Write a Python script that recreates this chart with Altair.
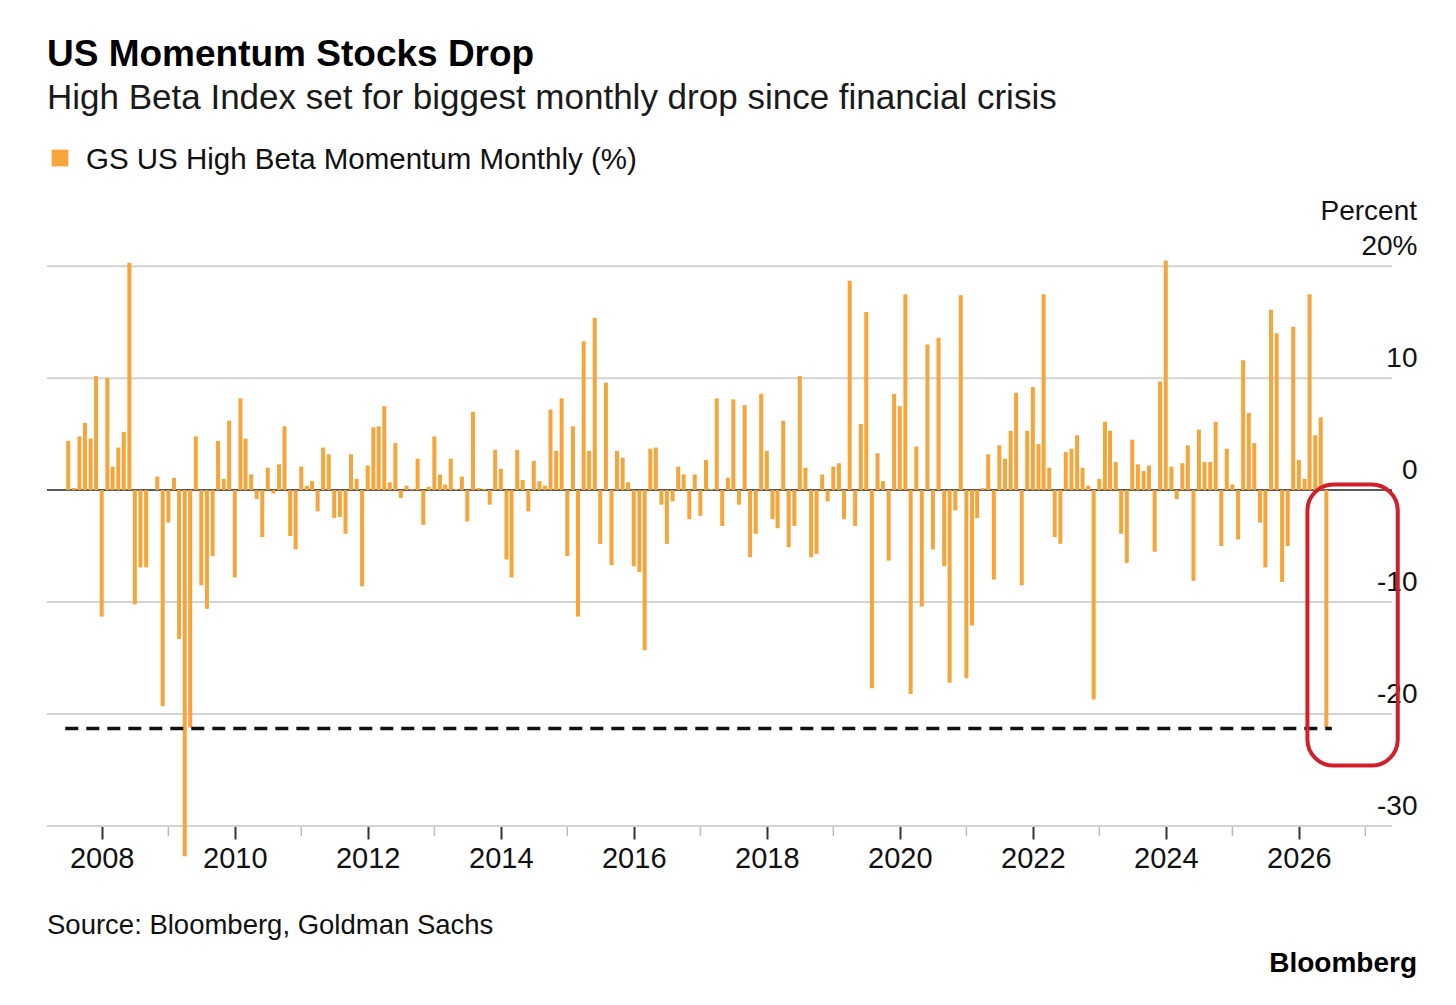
import altair as alt
import pandas as pd

values = [
 4.4,0.2,4.8,6.0,4.6,10.2,-11.3,10.0,2.1,3.8,5.2,20.3,-10.2,-6.9,-6.9,0.0,1.2,-19.3,-2.9,1.1,-13.3,-32.7,-21.2,4.8,-8.5,-10.6,-5.9,4.4,1.0,6.2,-7.8,8.2,4.6,1.4,-0.8,-4.2,2.0,
 -0.3,2.3,5.7,-4.1,-5.3,2.1,0.4,0.8,-1.9,3.8,3.2,-2.5,-2.4,-3.9,3.2,1.0,-8.6,2.2,5.6,5.7,7.5,0.7,4.2,-0.7,0.4,0.1,2.8,-3.1,0.3,4.8,1.4,0.5,2.8,0.1,1.2,-2.8,7.0,0.2,0.1,-1.3,
 3.6,1.9,-6.2,-7.8,3.6,0.9,-1.9,2.6,0.8,0.4,7.2,3.5,8.2,-5.9,5.7,-11.3,13.3,3.5,15.4,-4.8,9.6,-6.7,3.5,2.9,0.7,-6.8,-7.3,-14.3,3.7,3.8,-1.3,-4.8,-1.0,2.1,1.4,-2.6,1.4,-2.3,2.7,
 0.1,8.2,-3.2,1.1,8.1,-1.3,7.6,-6.0,-3.9,8.6,3.5,-2.6,-3.4,6.2,-5.1,-3.2,10.2,2.0,-6.0,-5.7,1.4,-1.0,2.1,2.4,-2.6,18.7,-3.2,5.9,15.9,-17.7,3.3,0.8,-6.3,8.6,7.5,17.5,-18.2,3.9,-10.4,13.0,
 -5.3,13.6,-6.8,-17.2,-1.8,17.4,-16.8,-12.1,-2.5,0.2,3.2,-8.0,4.0,2.8,5.3,8.7,-8.5,5.3,9.2,4.1,17.5,2.0,-4.2,-4.8,3.4,3.7,4.9,2.0,0.4,-18.7,1.0,6.1,5.3,2.5,-3.9,-6.5,4.5,2.3,1.7,2.2,
 -5.5,9.7,20.5,2.1,-0.8,2.4,4.0,-8.1,5.4,2.5,2.5,6.1,-5.0,3.7,0.5,-4.4,11.6,6.9,4.2,-2.9,-6.9,16.1,14.0,-8.2,-5.0,14.6,2.7,1.0,17.5,4.9,6.5,-21.3,
]
start_month = "2007-07-01"
dates = pd.date_range(start_month, periods=len(values), freq="MS")
df = pd.DataFrame({"date": dates, "value": values})

even_years = [f"{y}-01-01" for y in range(2008, 2027, 2)]
odd_years = [f"{y}-01-01" for y in range(2009, 2028, 2)]
y_ticks = [-30, -20, -10, 0, 10, 20]
grid_vals = [-30, -20, -10, 10, 20]
threshold = -21.3
thr_start, thr_end = "2007-06-15", "2026-07-01"
box = {"x": "2026-02-17", "x2": "2027-06-28", "y": 0.5, "y2": -24.6}

FONT = "Liberation Sans"
ORANGE = "#F5A53A"
W, H = 1345, 571

xs = alt.Scale(domain=["2007-04-03", "2027-04-30"])
ys = alt.Scale(domain=[-30, 21], nice=False, zero=False)

XAX = alt.Axis(values=even_years, format="%Y", title=None, grid=False, domain=False,
               tickSize=13, tickColor="#333", tickWidth=2, labelFontSize=29, labelFont=FONT,
               labelColor="#111", labelPadding=5, labelFlush=False)
YAX = alt.Axis(values=y_ticks, orient="right", title=None, grid=False,
               domain=False, ticks=False, labelAlign="right", labelPadding=25,
               labelBaseline="bottom", labelOffset=-6, labelFontSize=28, labelFont=FONT,
               labelColor="#111", labelExpr="datum.value == 20 ? '20%' : toString(datum.value)")

bars = alt.Chart(df).mark_bar(color=ORANGE, width=4, clip=False).encode(
    x=alt.X("date:T", scale=xs, axis=XAX),
    y=alt.Y("value:Q", scale=ys, axis=YAX),
)

grid = alt.Chart(pd.DataFrame({"v": grid_vals})).mark_rule(color="#d3d3d3", strokeWidth=2).encode(
    y=alt.Y("v:Q", scale=ys, axis=YAX))
zero = alt.Chart(pd.DataFrame({"v": [0]})).mark_rule(color="#222", strokeWidth=1.5).encode(
    y=alt.Y("v:Q", scale=ys, axis=YAX))
minor = alt.Chart(pd.DataFrame({"d": pd.to_datetime(odd_years)})).mark_rule(color="#bbb", strokeWidth=1.5).encode(
    x=alt.X("d:T", scale=xs, axis=XAX), y=alt.value(H + 1), y2=alt.value(H + 10))
thr = alt.Chart(pd.DataFrame({"a": [pd.Timestamp(thr_start)], "b": [pd.Timestamp(thr_end)], "v": [threshold]})).mark_rule(
    color="#111", strokeWidth=3.5, strokeDash=[13, 8]).encode(
    x=alt.X("a:T", scale=xs, axis=XAX), x2="b:T", y=alt.Y("v:Q", scale=ys, axis=YAX))
boxc = alt.Chart(pd.DataFrame({"a": [pd.Timestamp(box["x"])], "b": [pd.Timestamp(box["x2"])],
                               "y": [box["y"]], "y2": [box["y2"]]})).mark_rect(
    fillOpacity=0, stroke="#D0202A", strokeWidth=4, cornerRadius=26, clip=False).encode(
    x=alt.X("a:T", scale=xs, axis=XAX), x2="b:T", y=alt.Y("y:Q", scale=ys, axis=YAX), y2="y2:Q")

def txt(t, x, y, size, bold=False, align="left", color="#111"):
    return alt.Chart(pd.DataFrame({"t": [t]})).mark_text(
        align=align, baseline="alphabetic", fontSize=size, font=FONT,
        fontWeight="bold" if bold else "normal", color=color).encode(
        text="t:N", x=alt.value(x), y=alt.value(y))

legend_sq = alt.Chart(pd.DataFrame({"t": [1]})).mark_square(size=280, color=ORANGE, opacity=1, cornerRadius=3).encode(
    x=alt.value(13), y=alt.value(-97))

texts = [
    txt("US Momentum Stocks Drop", 0, -189, 37, bold=True, color="#000"),
    txt("High Beta Index set for biggest monthly drop since financial crisis", 0, -146, 35, color="#1a1a1a"),
    txt("GS US High Beta Momentum Monthly (%)", 39, -86, 29.5),
    txt("Percent", 1370, -35, 28, align="right"),
    txt("Source: Bloomberg, Goldman Sachs", 0, 679, 27.5),
    txt("Bloomberg", 1370, 717, 28, bold=True, align="right", color="#000"),
]

chart = alt.layer(grid, zero, minor, bars, thr, boxc, legend_sq, *texts).properties(
    width=W, height=H, background="white",
    autosize=alt.AutoSizeParams(type="none"),
    padding={"left": 39, "top": 247, "right": 50, "bottom": 160},
).configure_view(strokeWidth=0).configure_axis(grid=False)

chart.save("out.html", embed_options={"renderer": "svg", "actions": False})
